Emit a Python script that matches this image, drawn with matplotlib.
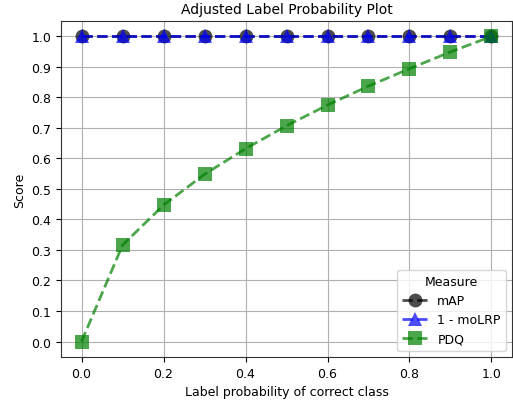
import matplotlib
matplotlib.use("Agg")
import matplotlib.pyplot as plt

x_vals = [0.0, 0.1, 0.2, 0.3, 0.4, 0.5, 0.6, 0.7, 0.8, 0.9, 1.0]
map_vals = [1.0, 1.0, 1.0, 1.0, 1.0, 1.0, 1.0, 1.0, 1.0, 1.0, 1.0]
molrp_vals = [1.0, 1.0, 1.0, 1.0, 1.0, 1.0, 1.0, 1.0, 1.0, 1.0, 1.0]
pdq_vals = [0.0, 0.316, 0.447, 0.548, 0.632, 0.707, 0.775, 0.837, 0.894, 0.949, 1.0]

fig = plt.figure(figsize=(5.13, 4.02), dpi=100)
ax = fig.add_axes([0.119, 0.11, 0.879, 0.835])
ax.plot(x_vals, map_vals, '--o', color='black', alpha=0.7, lw=2, ms=10, mew=0, label='mAP')
ax.plot(x_vals, molrp_vals, '--^', color='blue', alpha=0.7, lw=2, ms=10, mew=0, label='1 - moLRP')
ax.plot(x_vals, pdq_vals, '--s', color='green', alpha=0.7, lw=2, ms=10, mew=0, label='PDQ')
ax.set_xticks([0.0, 0.2, 0.4, 0.6, 0.8, 1.0])
ax.set_yticks([i / 10 for i in range(11)])
ax.grid(True, color='#b0b0b0')
ax.set_axisbelow(True)
ax.set_xlim(-0.05, 1.05)
ax.set_ylim(-0.05, 1.05)
for s in ax.spines.values():
    s.set_color('#333333')
ax.set_title('Adjusted Label Probability Plot', fontsize=10)
ax.set_xlabel('Label probability of correct class', fontsize=9)
ax.set_ylabel('Score', fontsize=9)
ax.tick_params(labelsize=9)
ax.legend(title='Measure', loc='lower right', fontsize=9, title_fontsize=9)
fig.savefig('out.png', dpi=100)
